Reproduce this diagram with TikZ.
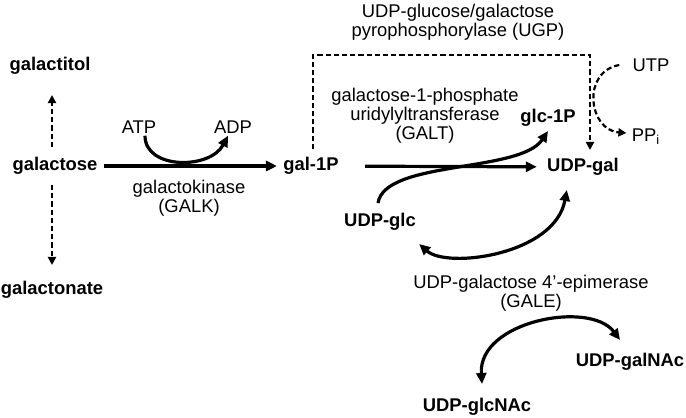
\documentclass[tikz,border=0pt]{standalone}
\usepackage{fontspec}
\setmainfont{Liberation Sans}
\usetikzlibrary{arrows.meta,calc}

\tikzset{
    metab/.style={font=\fontsize{9.2}{9.6}\selectfont\bfseries, inner sep=1pt},
    cofac/.style={font=\fontsize{9.2}{9.6}\selectfont, inner sep=1pt},
    enzyme/.style={font=\fontsize{9.2}{9.6}\selectfont, align=center, inner sep=1pt},
    flow/.style={line width=1.6pt, -{Triangle[length=5.5pt,width=5pt]}},
    dflow/.style={line width=1.6pt, {Triangle[length=5.5pt,width=5pt]}-{Triangle[length=5.5pt,width=5pt]}},
    sideflow/.style={line width=1.1pt, dash pattern=on 2.6pt off 1.5pt, -{Triangle[length=4pt,width=4pt]}}
}

\begin{document}
\begin{tikzpicture}[x=0.5pt,y=-0.5pt]
    \useasboundingbox (0,0) rectangle (686,418);

    \node[metab] (galactitol) at (50,66) {galactitol};
    \node[metab] (galactose) at (55,166) {galactose};
    \node[metab] (galactonate) at (52,290) {galactonate};
    \node[metab] (gal1P) at (311,166) {gal-1P};
    \node[metab] (glc1P) at (548,118) {glc-1P};
    \node[metab] (UDPgal) at (583,167) {UDP-gal};
    \node[metab] (UDPglc) at (380,222) {UDP-glc};
    \node[metab] (UDPgalNAc) at (630,362) {UDP-galNAc};
    \node[metab] (UDPglcNAc) at (477,407) {UDP-glcNAc};

    \node[cofac] (ATP) at (139,127) {ATP};
    \node[cofac] (ADP) at (233,127) {ADP};
    \node[cofac] (UTP) at (651,65) {UTP};
    \node[cofac] (PPi) at (646,137) {PP\textsubscript{i}};

    \node[enzyme] (GALK) at (189,198) {galactokinase\\(GALK)};
    \node[enzyme] (GALT) at (425,116) {galactose-1-phosphate\\uridylyltransferase\\(GALT)};
    \node[enzyme] (UGP) at (458,22) {UDP-glucose/galactose\\pyrophosphorylase (UGP)};
    \node[enzyme] (GALE) at (531,293) {UDP-galactose 4'-epimerase\\(GALE)};

    \coordinate (ugpcorner) at (590,55);

    % side routes of galactose
    \draw[sideflow] ($(galactose.north -| galactonate.north)+(0,-8)$) -- ($(galactitol.south -| galactonate.north)+(0,18)$);
    \draw[sideflow] ($(galactose.south -| galactonate.north)+(0,8)$) -- ($(galactonate.north)+(0,-14)$);

    % GALK
    \draw[flow, shorten <=2pt, shorten >=2pt] (galactose) -- (gal1P);
    \draw[flow] ([xshift=3pt]ATP.south) .. controls +(0,34) and +(-18,34) .. ([xshift=-2.5pt]ADP.south);

    % GALT
    \draw[flow, shorten <=12pt, shorten >=4pt] (gal1P) -- (UDPgal);
    \draw[flow] ([xshift=-1pt,yshift=4pt]UDPglc.north) .. controls +(7,-43) and +(-28,42) .. ([yshift=-1pt]glc1P.south);

    % UGP
    \draw[sideflow, shorten <=3pt, shorten >=3pt] ([xshift=1pt]gal1P.north) |- (ugpcorner) -- (ugpcorner |- UDPgal.north);
    %\draw[sideflow] (UTP) -- (PPi);
    \draw[sideflow] ([xshift=-5.5pt]UTP.west) .. controls +(-38,7) and +(-38,-3) .. ([xshift=-1.5pt,yshift=2pt]PPi.west);

    % GALE
    \draw[dflow] ([xshift=0.5pt,yshift=-5.5pt]UDPglc.south east) .. controls +(28,25) and +(-12,65) .. ([xshift=11pt,yshift=-6pt]UDPgal.south west);
    \draw[dflow] ([xshift=2.5pt,yshift=6pt]UDPglcNAc.north) .. controls +(-4,-63) and +(-30,-40) .. ([xshift=-5pt,yshift=5.5pt]UDPgalNAc.north);

\end{tikzpicture}
\end{document}
